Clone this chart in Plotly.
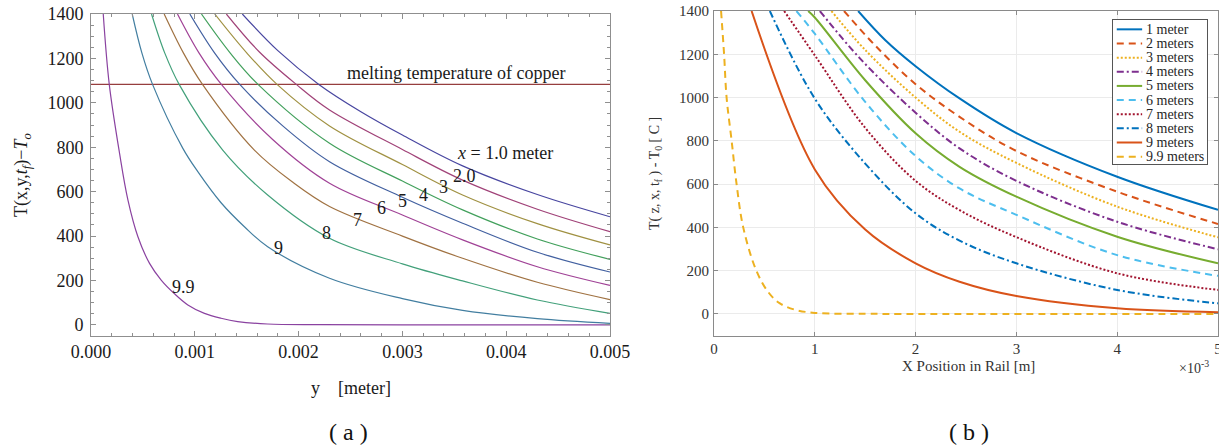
import numpy as np
import plotly.graph_objects as go

# ---------------- Panel (a) data : y position [mm] and T(x,y,tf)-To ----------------
a_names = ["1", "2", "3", "4", "5", "6", "7", "8", "9", "9.9"]
a_y1 = [1.458, 1.8, 2.195, 2.6, 3.0, 3.58, 4.3, 5.0]
a_T1 = [1400, 1235, 1083, 960, 855, 716, 587, 487]
a_y2 = [1.304, 1.62, 1.978, 2.298, 3.0, 3.58, 4.3, 5.0]
a_T2 = [1400, 1230, 1083, 968, 790, 652, 521, 420]
a_y3 = [1.192, 1.5, 1.792, 2.298, 3.0, 3.58, 4.3, 5.0]
a_T3 = [1400, 1225, 1083, 896, 722, 585, 456, 360]
a_y4 = [1.064, 1.34, 1.609, 2.298, 3.0, 3.58, 4.3, 5.0]
a_T4 = [1400, 1225, 1083, 818, 648, 518, 387, 295]
a_y5 = [0.952, 1.19, 1.433, 1.85, 2.298, 3.0, 3.58, 4.3, 5.0]
a_T5 = [1400, 1225, 1083, 895, 735, 575, 458, 327, 238]
a_y6 = [0.833, 1.04, 1.256, 1.75, 2.298, 3.0, 3.58, 4.3, 5.0]
a_T6 = [1400, 1225, 1083, 835, 638, 495, 383, 262, 178]
a_y7 = [0.705, 0.89, 1.074, 1.574, 1.95, 2.298, 3.0, 3.58, 4.3, 5.0]
a_T7 = [1400, 1225, 1083, 787, 640, 533, 400, 300, 192, 114]
a_y8 = [0.583, 0.71, 0.849, 1.269, 1.702, 2.298, 3.0, 3.58, 4.3, 5.0]
a_T8 = [1400, 1225, 1083, 787, 585, 390, 275, 198, 112, 52]
a_y9 = [0.397, 0.49, 0.593, 0.885, 1.029, 1.253, 1.478, 1.702, 2.298, 3.0, 3.58, 4.3, 5.0]
a_T9 = [1400, 1225, 1083, 795, 690, 550, 442, 352, 210, 118, 65, 28, 7]
a_y99 = [0.118, 0.176, 0.276, 0.356, 0.452, 0.564, 0.676, 0.805, 0.933, 1.093, 1.253, 1.413, 1.70, 2.2, 3.0, 5.0]
a_T99 = [1400, 1083, 770, 562, 397, 277, 202, 140, 90, 52, 30, 15, 4, 1, 0, 0]

melting_T = 1083
melting_text = "melting temperature of copper"

# curve labels in panel (a)
a_label_text = ["<i>x</i> = 1.0 meter", "2.0", "3", "4", "5", "6", "7", "8", "9", "9.9"]
a_label_y = [3.99, 3.603, 3.394, 3.202, 3.0, 2.803, 2.567, 2.27, 1.808, 0.892]
a_label_T = [776, 670, 619, 585, 556, 525, 473, 414, 346, 172]

# ---------------- Panel (b) data : X position [mm] and T(z,x,tf)-T0 ----------------
b_names = ["1 meter", "2 meters", "3 meters", "4 meters", "5 meters",
           "6 meters", "7 meters", "8 meters", "9 meters", "9.9 meters"]
b_x1 = [1.43, 1.7, 2.0, 2.436, 3.0, 4.0, 5.0]
b_T1 = [1400, 1265, 1145, 996, 836, 634, 481]
b_x2 = [1.29, 1.6, 2.0, 2.436, 3.0, 4.0, 5.0]
b_T2 = [1400, 1240, 1062, 911, 753, 565, 416]
b_x3 = [1.165, 1.5, 2.0, 2.436, 3.0, 4.0, 5.0]
b_T3 = [1400, 1220, 1000, 842, 698, 496, 354]
b_x4 = [1.05, 1.45, 2.0, 2.436, 3.0, 4.0, 5.0]
b_T4 = [1400, 1180, 930, 765, 615, 426, 299]
b_x5 = [0.934, 1.0, 1.5, 2.0, 2.436, 3.0, 4.0, 5.0]
b_T5 = [1400, 1370, 1080, 835, 680, 542, 357, 234]
b_x6 = [0.818, 1.0, 1.5, 2.0, 2.436, 3.0, 4.0, 5.0]
b_T6 = [1400, 1295, 980, 730, 580, 458, 272, 176]
b_x7 = [0.696, 1.0, 1.5, 2.0, 2.436, 3.0, 4.0, 5.0]
b_T7 = [1400, 1195, 860, 615, 480, 355, 188, 111]
b_x8 = [0.554, 1.0, 1.5, 2.0, 2.436, 3.0, 4.0, 5.0]
b_T8 = [1400, 995, 695, 465, 339, 234, 111, 49]
b_x9 = [0.373, 1.0, 1.5, 2.0, 2.436, 3.0, 4.0, 5.0]
b_T9 = [1400, 668, 390, 234, 149, 83, 26, 8]
b_x99 = [0.07, 0.1, 0.125, 0.175, 0.224, 0.29, 0.42, 0.54, 0.65, 0.8, 1.0, 1.5, 2.0, 5.0]
b_T99 = [1400, 1200, 1000, 800, 600, 400, 200, 100, 50, 20, 5, 1, 0, 0]

b_ticks_x = [0, 1, 2, 3, 4, 5]
T_ticks = [0, 200, 400, 600, 800, 1000, 1200, 1400]

# ---------------- styles ----------------
W, H = 1219, 448
SERIF = "Liberation Serif"
a_colors = ["rgb(72,70,160)", "rgb(160,66,120)", "rgb(160,145,66)", "rgb(66,160,92)",
            "rgb(66,96,160)", "rgb(160,66,150)", "rgb(160,114,66)", "rgb(66,160,122)",
            "rgb(66,126,160)", "rgb(138,66,160)"]
b_colors = ["#0072BD", "#D95319", "#EDB120", "#7E2F8E", "#77AC30",
            "#4DBEEE", "#A2142F", "#0072BD", "#D95319", "#EDB120"]
b_dash = ["solid", "7px,5px", "2px,2px", "7px,3px,2px,3px", "solid",
          "7px,5px", "2px,2px", "7px,3px,2px,3px", "solid", "7px,5px"]

a_series = [(a_y1, a_T1), (a_y2, a_T2), (a_y3, a_T3), (a_y4, a_T4), (a_y5, a_T5),
            (a_y6, a_T6), (a_y7, a_T7), (a_y8, a_T8), (a_y9, a_T9), (a_y99, a_T99)]
b_series = [(b_x1, b_T1), (b_x2, b_T2), (b_x3, b_T3), (b_x4, b_T4), (b_x5, b_T5),
            (b_x6, b_T6), (b_x7, b_T7), (b_x8, b_T8), (b_x9, b_T9), (b_x99, b_T99)]

fig = go.Figure()

# melting line (panel a)
fig.add_trace(go.Scatter(x=[0, 0.005], y=[melting_T, melting_T], mode="lines",
                         line=dict(color="rgb(150,62,62)", width=1.2),
                         xaxis="x", yaxis="y", showlegend=False, hoverinfo="skip"))

for i, (yy, TT) in enumerate(a_series):
    fig.add_trace(go.Scatter(x=np.array(yy) * 1e-3, y=TT, mode="lines",
                             line=dict(color=a_colors[i], width=1.2, shape="spline", smoothing=1.0),
                             name=a_names[i], xaxis="x", yaxis="y", showlegend=False))

for i, (xx, TT) in enumerate(b_series):
    fig.add_trace(go.Scatter(x=xx, y=TT, mode="lines",
                             line=dict(color=b_colors[i], width=2, dash=b_dash[i],
                                       shape="spline", smoothing=1.0),
                             name=b_names[i], xaxis="x2", yaxis="y2", showlegend=False))

# legend of panel (b) drawn on its own small axes
for i, nm in enumerate(b_names):
    fig.add_trace(go.Scatter(x=[0.04, 0.31], y=[i, i], mode="lines",
                             line=dict(color=b_colors[i], width=2, dash=b_dash[i]),
                             xaxis="x3", yaxis="y3", showlegend=False, hoverinfo="skip"))


def px_x(p):
    return p / W


def px_y(p):
    return 1 - p / H


frame_a = "#8f8f8f"
frame_b = "#8a8a8a"

layout = dict(
    width=W, height=H, margin=dict(l=0, r=0, t=0, b=0, autoexpand=False),
    paper_bgcolor="white", plot_bgcolor="white", showlegend=False,
    xaxis=dict(domain=[px_x(91), px_x(610)], range=[0, 0.005], anchor="y", automargin=False,
               tickmode="linear", tick0=0, dtick=0.001, tickformat=".3f",
               ticks="inside", ticklen=5, tickcolor=frame_a, tickwidth=1,
               minor=dict(ticks="inside", ticklen=3, dtick=0.0002, tick0=0, tickcolor=frame_a, showgrid=False),
               showline=True, linecolor=frame_a, linewidth=1, mirror="allticks",
               showgrid=False, zeroline=False, ticklabelstandoff=-1, ticklabeloverflow="allow",
               tickfont=dict(family=SERIF, size=18, color="#1a1a1a")),
    yaxis=dict(domain=[px_y(336), px_y(14)], range=[-50, 1400], anchor="x", automargin=False,
               tickmode="linear", tick0=0, dtick=200,
               ticks="inside", ticklen=5, tickcolor=frame_a, tickwidth=1,
               minor=dict(ticks="inside", ticklen=3, dtick=50, tick0=0, tickcolor=frame_a, showgrid=False),
               showline=True, linecolor=frame_a, linewidth=1, mirror="allticks",
               showgrid=False, zeroline=False, ticklabelstandoff=3,
               tickfont=dict(family=SERIF, size=18, color="#1a1a1a")),
    xaxis2=dict(domain=[px_x(714), px_x(1218)], range=[0, 5], anchor="y2", automargin=False,
                tickmode="array", tickvals=b_ticks_x, ticktext=[str(v) for v in b_ticks_x],
                ticks="inside", ticklen=4, tickcolor=frame_b,
                showline=True, linecolor=frame_b, linewidth=1, mirror="allticks",
                showgrid=True, gridcolor="#ebebeb", gridwidth=1, zeroline=False,
                ticklabelstandoff=-1, ticklabeloverflow="allow",
                tickfont=dict(family=SERIF, size=15, color="#333333")),
    yaxis2=dict(domain=[px_y(335.6), px_y(11)], range=[-100, 1400], anchor="x2", automargin=False,
                tickmode="array", tickvals=T_ticks, ticktext=[str(v) for v in T_ticks],
                ticks="inside", ticklen=4, tickcolor=frame_b,
                showline=True, linecolor=frame_b, linewidth=1, mirror="allticks",
                showgrid=True, gridcolor="#ebebeb", gridwidth=1, zeroline=False,
                ticklabelstandoff=1,
                tickfont=dict(family=SERIF, size=15, color="#333333")),
    xaxis3=dict(domain=[px_x(1113), px_x(1207)], range=[0, 1], anchor="y3", automargin=False,
                showline=True, linecolor="#555555", mirror=True, showgrid=False,
                zeroline=False, showticklabels=False, ticks=""),
    yaxis3=dict(domain=[px_y(164), px_y(20)], range=[9.52, -0.66], anchor="x3", automargin=False,
                showline=True, linecolor="#555555", mirror=True, showgrid=False,
                zeroline=False, showticklabels=False, ticks=""),
)
fig.update_layout(**layout)

ann = []
# legend labels (panel b)
for i, nm in enumerate(b_names):
    ann.append(dict(x=0.33, y=i, xref="x3", yref="y3", text=nm, showarrow=False,
                    font=dict(family=SERIF, size=14, color="#262626"),
                    xanchor="left", yanchor="middle"))
# melting label
ann.append(dict(x=3.516e-3, y=1134, xref="x", yref="y", text=melting_text, showarrow=False,
                font=dict(family=SERIF, size=18, color="#1a1a1a"), xanchor="center", yanchor="middle"))
for t, yy, TT in zip(a_label_text, a_label_y, a_label_T):
    ann.append(dict(x=yy * 1e-3, y=TT, xref="x", yref="y", text=t, showarrow=False,
                    font=dict(family=SERIF, size=18, color="#1a1a1a"), xanchor="center", yanchor="middle"))
# axis titles panel (a)
ann.append(dict(x=px_x(22), y=px_y(175), xref="paper", yref="paper", textangle=-90,
                text="T(x,y,<i>t<sub>f</sub></i>)−<i>T<sub>o</sub></i>", showarrow=False,
                font=dict(family=SERIF, size=18, color="#1a1a1a"), xanchor="center", yanchor="middle"))
ann.append(dict(x=px_x(351), y=px_y(388), xref="paper", yref="paper",
                text="y    [meter]", showarrow=False,
                font=dict(family=SERIF, size=18, color="#1a1a1a"), xanchor="center", yanchor="middle"))
ann.append(dict(x=px_x(348), y=px_y(432), xref="paper", yref="paper",
                text="( a )", showarrow=False,
                font=dict(family=SERIF, size=24, color="#111111"), xanchor="center", yanchor="middle"))
# axis titles panel (b)
ann.append(dict(x=px_x(655), y=px_y(174), xref="paper", yref="paper", textangle=-90,
                text="T( z, x, t<sub>f</sub> ) - T<sub>0</sub> [ C ]", showarrow=False,
                font=dict(family=SERIF, size=14, color="#333333"), xanchor="center", yanchor="middle"))
ann.append(dict(x=px_x(968), y=px_y(366), xref="paper", yref="paper",
                text="X Position in Rail [m]", showarrow=False,
                font=dict(family=SERIF, size=15, color="#333333"), xanchor="center", yanchor="middle"))
ann.append(dict(x=px_x(1194), y=px_y(367), xref="paper", yref="paper",
                text="×10<sup>-3</sup>", showarrow=False,
                font=dict(family=SERIF, size=14, color="#333333"), xanchor="center", yanchor="middle"))
ann.append(dict(x=px_x(969), y=px_y(432), xref="paper", yref="paper",
                text="( b )", showarrow=False,
                font=dict(family=SERIF, size=24, color="#111111"), xanchor="center", yanchor="middle"))
fig.update_layout(annotations=ann)

fig.write_html("out.html", config={"displayModeBar": False},
               post_script="document.body.style.margin='0px';document.body.style.overflow='hidden';")
